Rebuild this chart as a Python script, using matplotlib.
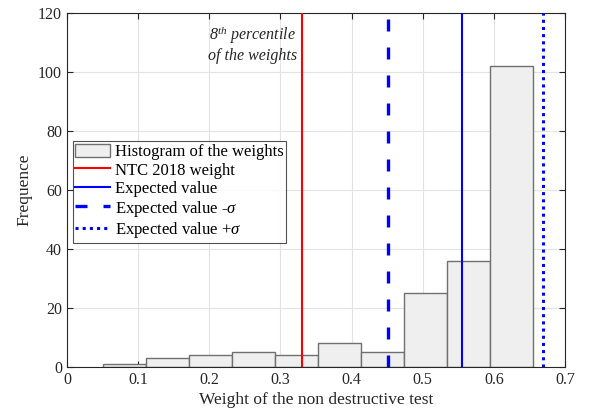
import matplotlib
matplotlib.use("Agg")
import matplotlib.pyplot as plt
import numpy as np

# Data
bin_edges = [0.0506, 0.1111, 0.1716, 0.2320, 0.2924, 0.3528, 0.4132, 0.4736, 0.5340, 0.5944, 0.6548]
counts = [1, 3, 4, 5, 4, 8, 5, 25, 36, 102]
ntc_weight = 0.33
expected = 0.555
expected_minus = 0.451
expected_plus = 0.669
xticks = [0, 0.1, 0.2, 0.3, 0.4, 0.5, 0.6, 0.7]
xticklabels = ['0', '0.1', '0.2', '0.3', '0.4', '0.5', '0.6', '0.7']
yticks = [0, 20, 40, 60, 80, 100, 120]

plt.rcParams['font.family'] = ['Liberation Serif', 'DejaVu Serif']
plt.rcParams['mathtext.fontset'] = 'custom'
plt.rcParams['mathtext.rm'] = 'Liberation Serif'
plt.rcParams['mathtext.it'] = 'Liberation Serif:italic'

fig = plt.figure(figsize=(5.95, 4.16), dpi=100)
ax = fig.add_axes([67/595, 1-367/416, (565-67)/595, (367-13)/416])

edges = np.array(bin_edges)
widths = np.diff(edges)
h = ax.bar(edges[:-1], counts, width=widths, align='edge', color='#efefef',
           edgecolor='#707070', linewidth=1.0, zorder=2, label='Histogram of the weights')
l1 = ax.axvline(ntc_weight, color='#ff0000', lw=1.5, zorder=3, label='NTC 2018 weight')
l2 = ax.axvline(expected, color='#0000ff', lw=1.5, zorder=3, label='Expected value')
l3 = ax.axvline(expected_minus, color='#0000ff', lw=2.4, ls=(0, (3.6, 4.8)), zorder=3,
                label='Expected value -$\\mathit{\\sigma}$')
l4 = ax.axvline(expected_plus, color='#0000ff', lw=2.2, ls=(0, (1.0, 1.35)), zorder=3,
                label='Expected value +$\\mathit{\\sigma}$')

ax.set_xlim(0, 0.7)
ax.set_ylim(0, 120)
ax.set_xticks(xticks)
ax.set_yticks(yticks)
ax.set_xticklabels(xticklabels)
ax.tick_params(direction='in', top=True, right=True, labelsize=11.5, length=4, width=0.8,
               colors='#262626')
ax.grid(True, color='#e3e3e3', lw=0.8, zorder=0)
ax.set_axisbelow(True)
for s in ax.spines.values():
    s.set_color('#262626')
    s.set_linewidth(0.8)

ax.set_xlabel('Weight of the non destructive test', fontsize=12.5, color='#262626', labelpad=3)
ax.set_ylabel('Frequence', fontsize=12.5, color='#262626')

ax.text(0.261, 109.5, '8$^{th}$ percentile\nof the weights', fontsize=11.5, style='italic',
        ha='center', va='center', color='#262626', linespacing=1.2)

leg = ax.legend(handles=[h, l1, l2, l3, l4], loc='upper left', bbox_to_anchor=(0.012, 0.638),
                fontsize=12, frameon=True, fancybox=False, edgecolor='#262626',
                handlelength=2.1, handleheight=0.9, handletextpad=0.25, borderpad=0.15,
                labelspacing=0.1, borderaxespad=0)
leg.get_frame().set_linewidth(0.8)

fig.savefig('out.png', dpi=100)
